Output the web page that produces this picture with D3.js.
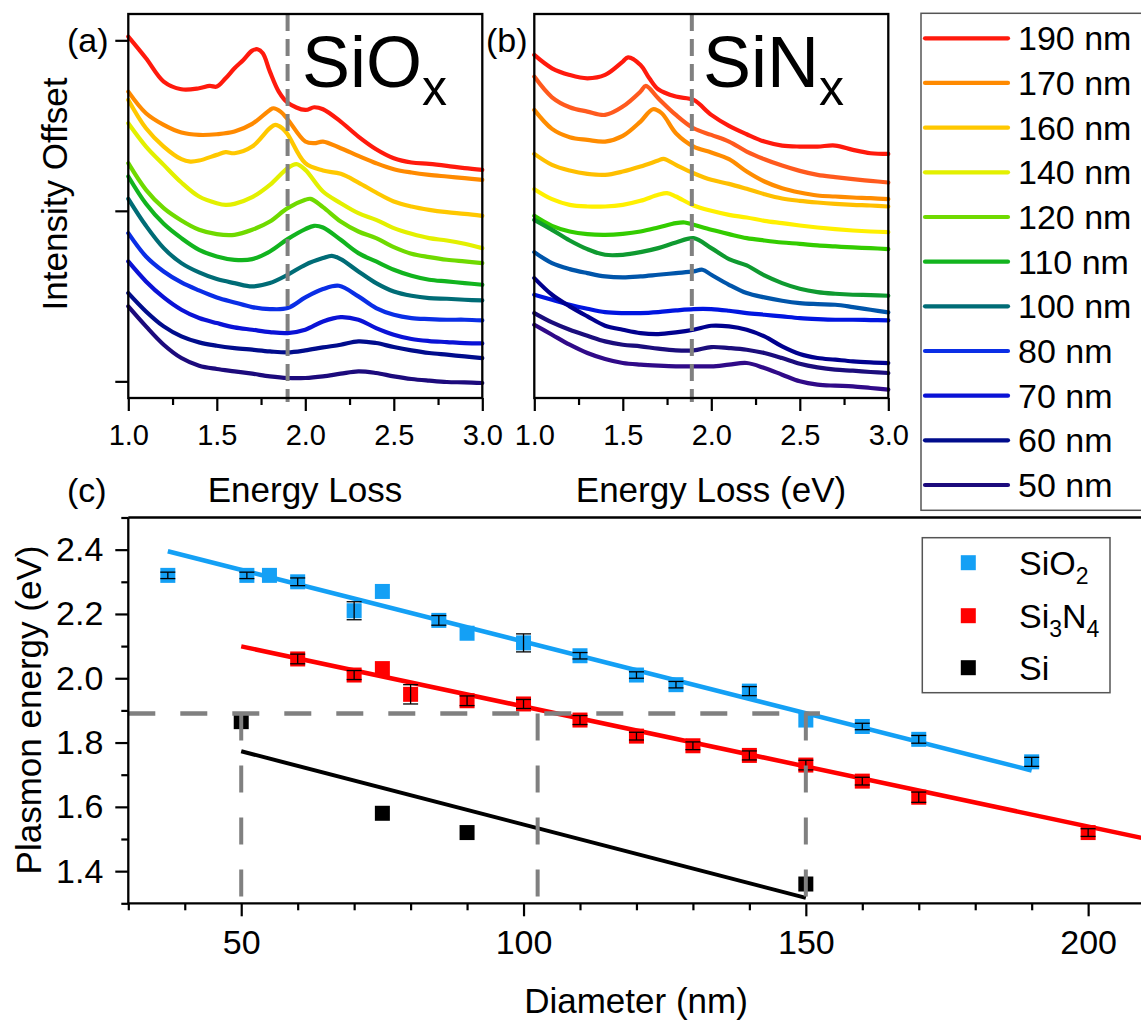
<!DOCTYPE html>
<html>
<head>
<meta charset="utf-8">
<script src="https://cdn.jsdelivr.net/npm/d3@7"></script>
<style>
  body { margin: 0; background: #fff; }
  svg { display: block; }
</style>
</head>
<body>
<svg id="chart" width="1141" height="1023"></svg>
<script>
const FONT = '"Liberation Sans", Arial, Helvetica, sans-serif';

// ---- panel (a) / (b): EELS spectra, intensity in arbitrary offset units ----
const energyTicks = [1.0, 1.5, 2.0, 2.5, 3.0];
const energyMinorTicks = [1.25, 1.75, 2.25, 2.75];
const intensityTicks = [0, 512, 1024];

const siOx190 = [[1.0,1035],[1.1,970],[1.2,900],[1.3,877],[1.4,880],[1.46,887],[1.5,885],[1.55,910],[1.6,940],[1.65,965],[1.7,993],[1.73,997],[1.76,985],[1.8,930],[1.85,870],[1.9,837],[2.0,815],[2.05,823],[2.1,817],[2.2,780],[2.3,735],[2.4,697],[2.5,670],[2.6,657],[2.7,653],[2.8,647],[2.9,640],[3.0,635]];
const siOx170 = [[1.0,870],[1.1,805],[1.2,770],[1.3,747],[1.4,740],[1.5,742],[1.6,750],[1.7,773],[1.8,815],[1.82,820],[1.86,810],[1.9,787],[2.0,720],[2.05,715],[2.1,720],[2.2,700],[2.3,677],[2.4,655],[2.5,637],[2.6,627],[2.7,620],[2.8,615],[2.9,610],[3.0,605]];
const siOx160 = [[1.0,845],[1.1,760],[1.2,705],[1.3,667],[1.35,660],[1.4,663],[1.5,680],[1.55,688],[1.6,685],[1.7,705],[1.8,760],[1.83,770],[1.87,760],[1.9,742],[2.0,655],[2.1,633],[2.2,623],[2.3,597],[2.4,567],[2.5,540],[2.6,525],[2.7,515],[2.8,508],[2.9,503],[3.0,497]];
const siOx140 = [[1.0,775],[1.1,705],[1.2,650],[1.3,597],[1.4,555],[1.5,535],[1.55,530],[1.6,533],[1.7,553],[1.8,590],[1.9,640],[1.95,652],[2.0,635],[2.1,570],[2.2,535],[2.3,505],[2.4,485],[2.5,460],[2.6,443],[2.7,430],[2.8,423],[2.9,413],[3.0,400]];
const siOx120 = [[1.0,655],[1.1,575],[1.2,520],[1.3,483],[1.4,455],[1.5,442],[1.6,440],[1.7,455],[1.8,480],[1.9,520],[2.0,545],[2.03,548],[2.1,523],[2.2,480],[2.3,450],[2.4,430],[2.5,403],[2.6,383],[2.7,373],[2.8,365],[2.9,360],[3.0,355]];
const siOx110 = [[1.0,615],[1.1,533],[1.2,473],[1.3,430],[1.4,395],[1.5,375],[1.6,365],[1.7,367],[1.8,390],[1.9,427],[2.0,457],[2.05,467],[2.1,462],[2.2,425],[2.3,385],[2.4,360],[2.5,335],[2.6,317],[2.7,305],[2.8,300],[2.9,295],[3.0,290]];
const siOx100 = [[1.0,548],[1.1,467],[1.2,400],[1.3,355],[1.4,327],[1.5,307],[1.6,295],[1.7,285],[1.8,295],[1.9,320],[2.0,350],[2.1,370],[2.15,377],[2.2,367],[2.3,330],[2.4,295],[2.5,270],[2.6,257],[2.7,250],[2.8,248],[2.9,245],[3.0,243]];
const siOx80 = [[1.0,445],[1.1,375],[1.2,330],[1.3,297],[1.4,273],[1.5,252],[1.6,237],[1.7,223],[1.8,217],[1.9,220],[2.0,252],[2.1,277],[2.19,287],[2.3,255],[2.4,220],[2.5,200],[2.6,190],[2.7,187],[2.8,185],[2.9,185],[3.0,183]];
const siOx70 = [[1.0,360],[1.1,300],[1.2,252],[1.3,215],[1.4,190],[1.5,175],[1.6,162],[1.7,155],[1.8,148],[1.9,145],[2.0,155],[2.1,180],[2.2,193],[2.3,185],[2.4,160],[2.5,140],[2.6,127],[2.7,121],[2.8,118],[2.9,115],[3.0,114]];
const siOx60 = [[1.0,265],[1.1,210],[1.2,165],[1.3,135],[1.4,117],[1.5,107],[1.6,100],[1.7,95],[1.8,90],[1.9,87],[2.0,93],[2.1,102],[2.2,110],[2.3,120],[2.4,115],[2.5,103],[2.6,93],[2.7,85],[2.8,80],[2.9,75],[3.0,70]];
const siOx50 = [[1.0,225],[1.1,165],[1.2,110],[1.3,70],[1.4,47],[1.5,37],[1.6,30],[1.7,23],[1.8,15],[1.9,10],[2.0,10],[2.1,15],[2.2,23],[2.3,30],[2.4,25],[2.5,15],[2.6,7],[2.7,2],[2.8,-2],[2.9,-3],[3.0,-5]];

const siNx1 = [[1.0,980],[1.1,940],[1.2,920],[1.3,910],[1.4,920],[1.5,960],[1.53,973],[1.6,950],[1.65,910],[1.7,877],[1.8,855],[1.9,845],[2.0,800],[2.1,767],[2.2,742],[2.3,720],[2.4,708],[2.5,705],[2.6,705],[2.7,708],[2.8,695],[2.9,685],[3.0,683]];
const siNx2 = [[1.0,915],[1.1,853],[1.2,823],[1.3,810],[1.4,800],[1.5,825],[1.6,870],[1.63,887],[1.7,850],[1.8,800],[1.9,760],[2.0,740],[2.1,720],[2.2,690],[2.3,667],[2.4,648],[2.5,632],[2.6,620],[2.7,613],[2.8,607],[2.9,602],[3.0,597]];
const siNx3 = [[1.0,815],[1.1,758],[1.2,733],[1.3,725],[1.4,720],[1.5,737],[1.6,780],[1.67,817],[1.72,805],[1.8,745],[1.9,705],[2.0,687],[2.1,667],[2.2,630],[2.3,600],[2.4,580],[2.5,567],[2.6,558],[2.7,555],[2.8,552],[2.9,550],[3.0,547]];
const siNx4 = [[1.0,683],[1.1,650],[1.2,633],[1.3,623],[1.4,620],[1.5,630],[1.6,645],[1.7,663],[1.73,668],[1.8,650],[1.9,625],[2.0,605],[2.1,593],[2.2,578],[2.3,562],[2.4,549],[2.5,542],[2.6,537],[2.7,533],[2.8,530],[2.9,528],[3.0,525]];
const siNx5 = [[1.0,577],[1.1,547],[1.2,530],[1.3,525],[1.4,525],[1.5,530],[1.6,542],[1.7,560],[1.75,565],[1.8,555],[1.9,528],[2.0,512],[2.1,500],[2.2,492],[2.3,482],[2.4,475],[2.5,468],[2.6,462],[2.7,457],[2.8,453],[2.9,450],[3.0,448]];
const siNx6 = [[1.0,497],[1.1,467],[1.2,450],[1.3,442],[1.4,440],[1.5,443],[1.6,450],[1.7,462],[1.8,475],[1.85,477],[1.9,470],[2.0,455],[2.1,442],[2.2,430],[2.3,423],[2.4,417],[2.5,413],[2.6,408],[2.7,405],[2.8,402],[2.9,400],[3.0,397]];
const siNx7 = [[1.0,485],[1.1,455],[1.2,423],[1.3,397],[1.4,380],[1.5,380],[1.6,388],[1.7,400],[1.8,417],[1.9,430],[2.0,400],[2.1,367],[2.2,348],[2.3,318],[2.4,295],[2.5,278],[2.6,268],[2.7,263],[2.8,260],[2.9,259],[3.0,257]];
const siNx8 = [[1.0,388],[1.1,355],[1.2,337],[1.3,325],[1.4,315],[1.5,312],[1.6,315],[1.7,320],[1.8,325],[1.9,330],[1.95,335],[2.0,320],[2.1,290],[2.2,265],[2.3,252],[2.4,242],[2.5,235],[2.6,232],[2.7,230],[2.8,223],[2.9,215],[3.0,207]];
const siNx9 = [[1.0,260],[1.1,245],[1.2,230],[1.3,218],[1.4,208],[1.5,205],[1.6,205],[1.7,208],[1.8,213],[1.9,217],[2.0,217],[2.1,212],[2.2,205],[2.3,200],[2.4,195],[2.5,190],[2.6,187],[2.7,185],[2.8,185],[2.9,184],[3.0,183]];
const siNx10 = [[1.0,310],[1.1,260],[1.2,225],[1.3,195],[1.4,167],[1.5,155],[1.6,145],[1.7,142],[1.8,147],[1.9,155],[2.0,167],[2.1,165],[2.2,155],[2.3,135],[2.4,105],[2.5,82],[2.6,70],[2.7,65],[2.8,60],[2.9,57],[3.0,55]];
const siNx11 = [[1.0,205],[1.1,177],[1.2,155],[1.3,137],[1.4,120],[1.5,110],[1.6,105],[1.7,98],[1.8,93],[1.9,93],[2.0,103],[2.1,100],[2.2,95],[2.3,85],[2.4,70],[2.5,53],[2.6,42],[2.7,35],[2.8,32],[2.9,28],[3.0,25]];
const siNx12 = [[1.0,170],[1.1,140],[1.2,110],[1.3,85],[1.4,67],[1.5,55],[1.6,50],[1.7,47],[1.8,45],[1.9,45],[2.0,45],[2.1,50],[2.2,55],[2.3,40],[2.4,20],[2.5,0],[2.6,-10],[2.7,-13],[2.8,-15],[2.9,-20],[3.0,-25]];

const siOxCurves = [siOx190, siOx170, siOx160, siOx140, siOx120, siOx110, siOx100, siOx80, siOx70, siOx60, siOx50];
const siNxCurves = [siNx1, siNx2, siNx3, siNx4, siNx5, siNx6, siNx7, siNx8, siNx9, siNx10, siNx11, siNx12];
const legendLabels = ['190 nm','170 nm','160 nm','140 nm','120 nm','110 nm','100 nm','80 nm','70 nm','60 nm','50 nm'];
const siOxColors = ['#ff1a0d','#ff8a00','#ffc800','#e3f000','#6fda00','#12b41e','#006c76','#0a2ee6','#0a12d6','#000c8c','#1c0a7c'];
const siNxColors = ['#ff1a0d','#ff5a1e','#ff8c00','#ffbf00','#fff000','#33cc00','#0f9a30','#0055aa','#0015e0','#00008e','#1b0d7c','#300a88'];
const dashEnergyA = 1.9;
const dashEnergyB = 1.89;

// ---- panel (c): plasmon energy vs diameter ----
const diameterTicks = [50, 100, 150, 200];
const diameterMinor = [30, 40, 60, 70, 80, 90, 110, 120, 130, 140, 160, 170, 180, 190];
const plasmonTicks = [1.4, 1.6, 1.8, 2.0, 2.2, 2.4];
const plasmonMinor = [1.3, 1.5, 1.7, 1.9, 2.1, 2.3, 2.5];

const sio2Diam = [37, 51, 55, 60, 70, 75, 85, 90, 100, 110, 120, 127, 140, 150, 160, 170, 190];
const sio2Energy = [2.32, 2.32, 2.32, 2.30, 2.21, 2.27, 2.18, 2.14, 2.11, 2.07, 2.01, 1.98, 1.96, 1.87, 1.85, 1.81, 1.74];
const sio2Err = [0.01, 0.01, 0, 0.012, 0.028, 0, 0.015, 0, 0.028, 0.01, 0.01, 0.01, 0.014, 0, 0.01, 0.012, 0.014];

const si3n4Diam = [60, 70, 75, 80, 90, 100, 110, 120, 130, 140, 150, 160, 170, 200];
const si3n4Energy = [2.06, 2.01, 2.03, 1.95, 1.93, 1.92, 1.87, 1.82, 1.79, 1.76, 1.73, 1.68, 1.63, 1.52];
const si3n4Err = [0.015, 0.014, 0, 0.03, 0.015, 0.014, 0.014, 0.012, 0.012, 0.014, 0.015, 0.012, 0.016, 0.012];

const siDiam = [50, 75, 90, 150];
const siEnergy = [1.865, 1.58, 1.52, 1.36];

const sio2Fit = [[37, 2.395], [190, 1.713]];
const si3n4Fit = [[50, 2.099], [212, 1.494]];
const siFit = [[50, 1.773], [150, 1.317]];

const guideEnergy = 1.89;
const guideDiameters = [50, 102.5, 150];
const guideEnd = 152.5;

const svg = d3.select('#chart');

function styleAxis(g, size) {
  g.attr('font-family', FONT).attr('font-size', size);
  g.select('.domain').remove();
  g.selectAll('line').attr('stroke', '#000').attr('stroke-width', 2.2);
  g.selectAll('text').attr('fill', '#000');
}

function spectraPanel(left, right, curves, colors, withYTicks, dashE) {
  const x = d3.scaleLinear().domain([1, 3]).range([left, right]);
  const y = d3.scaleLinear().domain([-50, 1103]).range([398, 14]);
  const g = svg.append('g');
  const line = d3.line().x(d => x(d[0])).y(d => y(d[1])).curve(d3.curveCatmullRom.alpha(0.5));

  curves.forEach((c, i) => {
    g.append('path').attr('d', line(c))
      .attr('fill', 'none').attr('stroke', colors[i])
      .attr('stroke-width', 4.2).attr('stroke-linejoin', 'round').attr('stroke-linecap', 'round');
  });

  g.append('line')
    .attr('x1', x(dashE)).attr('x2', x(dashE)).attr('y1', 14).attr('y2', 402)
    .attr('stroke', '#808080').attr('stroke-width', 4).attr('stroke-dasharray', '17 8');

  g.append('rect').attr('x', left).attr('y', 14).attr('width', right - left).attr('height', 384)
    .attr('fill', 'none').attr('stroke', '#000').attr('stroke-width', 2.3);

  const ax = g.append('g').attr('transform', 'translate(0,398)')
    .call(d3.axisBottom(x).tickValues(energyTicks).tickSize(13).tickPadding(13).tickFormat(d3.format('.1f')));
  styleAxis(ax, 29);
  const axm = g.append('g').attr('transform', 'translate(0,398)')
    .call(d3.axisBottom(x).tickValues(energyMinorTicks).tickSize(7).tickFormat(''));
  styleAxis(axm, 29);

  if (withYTicks) {
    const ay = g.append('g').attr('transform', `translate(${left},0)`)
      .call(d3.axisLeft(y).tickValues(intensityTicks).tickSize(13).tickFormat(''));
    styleAxis(ay, 29);
  }
  return x;
}

spectraPanel(128.3, 482.3, siOxCurves, siOxColors, true, dashEnergyA);
spectraPanel(534.3, 888.3, siNxCurves, siNxColors, false, dashEnergyB);

// panel labels and titles
function label(txt, x, y, size, anchor) {
  return svg.append('text').attr('x', x).attr('y', y).attr('font-family', FONT)
    .attr('font-size', size).attr('text-anchor', anchor || 'start').attr('fill', '#000').text(txt);
}
label('(a)', 67, 52, 34);
label('(b)', 486, 52, 34);
label('(c)', 67, 502, 34);
label('Energy Loss', 305, 502, 35, 'middle');
label('Energy Loss (eV)', 711, 502, 35, 'middle');

svg.append('text').attr('transform', 'translate(54,194) rotate(-90)')
  .attr('font-family', FONT).attr('font-size', 35).attr('text-anchor', 'middle')
  .attr('dominant-baseline', 'central').text('Intensity Offset');

function chem(x, y, size, parts) {
  const t = svg.append('text').attr('x', x).attr('y', y).attr('font-family', FONT)
    .attr('font-size', size).attr('fill', '#000');
  let shifted = 0;
  parts.forEach(p => {
    const sub = p[1];
    const dy = sub ? sub.dy - shifted : -shifted;
    shifted = sub ? sub.dy : 0;
    t.append('tspan').attr('dy', dy).attr('font-size', sub ? sub.size : size).text(p[0]);
  });
  return t;
}
chem(302, 87, 72, [['SiO'], ['x', {dy: 18, size: 50}]]);
chem(703, 87, 72, [['SiN'], ['x', {dy: 18, size: 50}]]);

// diameter legend (top right)
svg.append('rect').attr('x', 921).attr('y', 13.3).attr('width', 240).attr('height', 497)
  .attr('fill', '#fff').attr('stroke', '#555').attr('stroke-width', 1.5);
legendLabels.forEach((l, i) => {
  const cy = 38.3 + i * 44.67;
  svg.append('line').attr('x1', 925).attr('x2', 1008).attr('y1', cy).attr('y2', cy)
    .attr('stroke', siOxColors[i]).attr('stroke-width', 4.2).attr('stroke-linecap', 'round');
  label(l, 1018, cy + 12, 34);
});

// ---- panel (c) ----
const xc = d3.scaleLinear().domain([30, 210]).range([128.3, 1144.6]);
const yc = d3.scaleLinear().domain([1.3, 2.5]).range([903.3, 517.5]);
const pc = svg.append('g');

const fitLine = d3.line().x(d => xc(d[0])).y(d => yc(d[1]));
pc.append('path').attr('d', fitLine(sio2Fit)).attr('stroke', '#14a0f5').attr('stroke-width', 4.5).attr('fill', 'none');
pc.append('path').attr('d', fitLine(si3n4Fit)).attr('stroke', '#ff0000').attr('stroke-width', 4.5).attr('fill', 'none');
pc.append('path').attr('d', fitLine(siFit)).attr('stroke', '#000').attr('stroke-width', 4).attr('fill', 'none');

const M = 15;
function markers(diams, energies, color) {
  pc.selectAll(null).data(d3.zip(diams, energies)).enter().append('rect')
    .attr('x', d => xc(d[0]) - M / 2).attr('y', d => yc(d[1]) - M / 2)
    .attr('width', M).attr('height', M).attr('fill', color);
}
function errorBars(diams, energies, errs) {
  d3.zip(diams, energies, errs).forEach(d => {
    if (!d[2]) return;
    const cx = xc(d[0]);
    pc.append('line').attr('x1', cx).attr('x2', cx).attr('y1', yc(d[1] - d[2])).attr('y2', yc(d[1] + d[2]))
      .attr('stroke', '#000').attr('stroke-width', 1.3);
    [d[1] - d[2], d[1] + d[2]].forEach(v => {
      pc.append('line').attr('x1', cx - 7.5).attr('x2', cx + 7.5).attr('y1', yc(v)).attr('y2', yc(v))
        .attr('stroke', '#000').attr('stroke-width', 1.3);
    });
  });
}
markers(sio2Diam, sio2Energy, '#14a0f5');
markers(si3n4Diam, si3n4Energy, '#ff0000');
markers(siDiam, siEnergy, '#000');
errorBars(sio2Diam, sio2Energy, sio2Err);
errorBars(si3n4Diam, si3n4Energy, si3n4Err);

// grey guide lines
pc.append('line').attr('x1', xc(30)).attr('x2', xc(guideEnd)).attr('y1', yc(guideEnergy)).attr('y2', yc(guideEnergy))
  .attr('stroke', '#808080').attr('stroke-width', 4.5).attr('stroke-dasharray', '27 25');
guideDiameters.forEach(dv => {
  pc.append('line').attr('x1', xc(dv)).attr('x2', xc(dv)).attr('y1', yc(guideEnergy)).attr('y2', yc(1.3))
    .attr('stroke', '#808080').attr('stroke-width', 4).attr('stroke-dasharray', '27 25');
});

// frame
pc.append('line').attr('x1', 128.3).attr('x2', 1141).attr('y1', 517.5).attr('y2', 517.5).attr('stroke', '#000').attr('stroke-width', 2.3);
pc.append('line').attr('x1', 128.3).attr('x2', 128.3).attr('y1', 517.5).attr('y2', 903.3).attr('stroke', '#000').attr('stroke-width', 2.3);
pc.append('line').attr('x1', 128.3).attr('x2', 1141).attr('y1', 903.3).attr('y2', 903.3).attr('stroke', '#000').attr('stroke-width', 2.3);

const cxAxis = pc.append('g').attr('transform', 'translate(0,903.3)')
  .call(d3.axisBottom(xc).tickValues(diameterTicks).tickSize(13).tickPadding(14).tickFormat(d3.format('d')));
styleAxis(cxAxis, 34);
const cxMinor = pc.append('g').attr('transform', 'translate(0,903.3)')
  .call(d3.axisBottom(xc).tickValues(diameterMinor).tickSize(7).tickFormat(''));
styleAxis(cxMinor, 34);
const cyAxis = pc.append('g').attr('transform', 'translate(128.3,0)')
  .call(d3.axisLeft(yc).tickValues(plasmonTicks).tickSize(13).tickPadding(12).tickFormat(d3.format('.1f')));
styleAxis(cyAxis, 34);
const cyMinor = pc.append('g').attr('transform', 'translate(128.3,0)')
  .call(d3.axisLeft(yc).tickValues(plasmonMinor).tickSize(7).tickFormat(''));
styleAxis(cyMinor, 34);

label('Diameter (nm)', 636, 1013, 35, 'middle');
svg.append('text').attr('transform', 'translate(28,710) rotate(-90)')
  .attr('font-family', FONT).attr('font-size', 35).attr('text-anchor', 'middle')
  .attr('dominant-baseline', 'central').text('Plasmon energy (eV)');

// material legend
svg.append('rect').attr('x', 922.3).attr('y', 537.7).attr('width', 187.7).attr('height', 155)
  .attr('fill', '#fff').attr('stroke', '#555').attr('stroke-width', 1.5);
const matColors = ['#14a0f5', '#ff0000', '#000'];
const matRows = [562.7, 615.7, 667.7];
matRows.forEach((cy, i) => {
  svg.append('rect').attr('x', 968.3 - M / 2).attr('y', cy - M / 2).attr('width', M).attr('height', M).attr('fill', matColors[i]);
});
chem(1019, 575, 34, [['SiO'], ['2', {dy: 9, size: 23}]]);
chem(1019, 628, 34, [['Si'], ['3', {dy: 9, size: 23}], ['N'], ['4', {dy: 9, size: 23}]]);
chem(1019, 680, 34, [['Si']]);
</script>
</body>
</html>
